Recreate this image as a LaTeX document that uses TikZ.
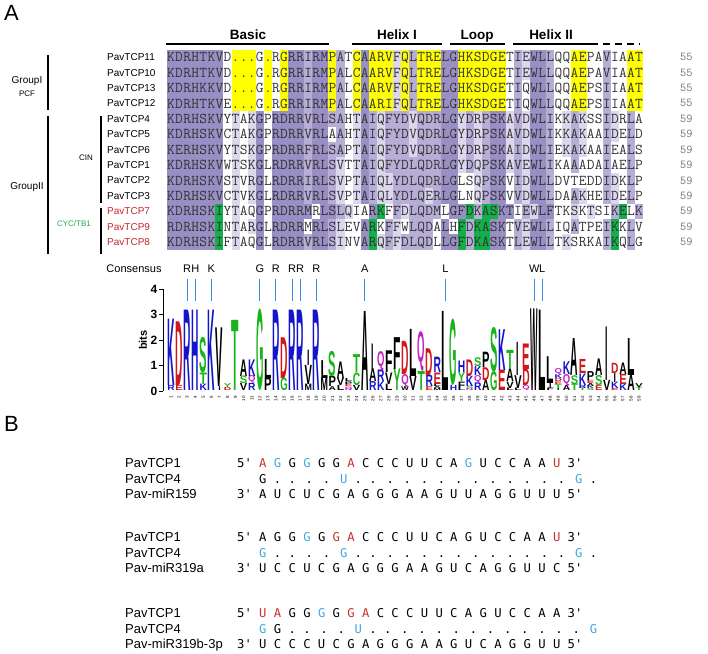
\documentclass[tikz,border=0pt]{standalone}
\usepackage{fontspec}
\setmainfont{Liberation Sans}
\setsansfont{Liberation Sans}
\newfontfamily\nucfont{DejaVu Sans Mono}
\usepackage{graphicx}
\usepackage{tikz}

\definecolor{alnD}{HTML}{9A8FC5}
\definecolor{alnM}{HTML}{B7AED8}
\definecolor{alnL}{HTML}{DCD7EC}
\definecolor{alnY}{HTML}{FFFF00}
\definecolor{alnG}{HTML}{12B04A}
\definecolor{tcpred}{HTML}{C4262E}
\definecolor{cycgreen}{HTML}{1FAA4B}
\definecolor{consblue}{HTML}{3B8EDB}
\definecolor{logob}{HTML}{1414CC}
\definecolor{logor}{HTML}{D01818}
\definecolor{logog}{HTML}{18B418}
\definecolor{logop}{HTML}{C41EC4}
\definecolor{logok}{HTML}{000000}
\definecolor{ntred}{HTML}{C8302C}
\definecolor{ntblue}{HTML}{44A4E0}

\def\alnx{167}
\def\alnw{8.07}
\def\rowtop{49.5}
\def\rowh{15.4}
\def\logobase{391}
\def\bitht{25.5}

\newcount\colno

%% shading of one alignment row
\newcommand{\cellrow}[2]{\def\currow{#1}\colno=0 \cellnext#2\relax}
\def\cellnext#1{%
  \ifx#1\relax\let\nextcell\relax\else
    \advance\colno by 1
    \if#1o\else
      \fill[cell#1] ({\alnx+(\the\colno-1)*\alnw},{\rowtop+(\currow-1)*\rowh})
        rectangle ++(\alnw,\rowh);
    \fi
    \let\nextcell\cellnext
  \fi\nextcell}

%% residues of one alignment row
\newcommand{\seqrow}[2]{\def\currow{#1}\colno=0 \seqnext#2\relax}
\def\seqnext#1{%
  \ifx#1\relax\let\nextseq\relax\else
    \advance\colno by 1
    \node[seqchar] (q\currow-\the\colno)
      at ({\alnx+(\the\colno-0.5)*\alnw},{\rowtop+(\currow-0.5)*\rowh+4.6}) {#1};
    \let\nextseq\seqnext
  \fi\nextseq}

%% one letter of the logo
\def\ltrI{I}
\newcommand{\logoltr}[5]{%
  \pgfmathsetlengthmacro\ltrh{#3*\bitht*1pt}%
  \edef\ltrtmp{#4}\def\ltrw{7.4pt}%
  \ifx\ltrtmp\ltrI\def\ltrw{2.4pt}\fi
  \edef\ltrcol{logo#5}%
  \node[logoletter, text=\ltrcol] (lg#1#4)
    at ({\alnx+(#1-0.5)*\alnw},{\logobase-(#2)*\bitht}) {\resizebox*{\ltrw}{\ltrh}{#4}};}
\newcommand{\logocol}[2]{%
  \foreach \lt/\lh/\lc [remember=\tp as \bs (initially 0),
      evaluate=\lh as \tp using \bs+\lh] in {#2}
    {\logoltr{#1}{\bs}{\lh}{\lt}{\lc}}}

\newcommand{\ntR}[1]{\textcolor{ntred}{#1}}
\newcommand{\ntB}[1]{\textcolor{ntblue}{#1}}

\begin{document}
\begin{tikzpicture}[x=1pt,y=-1pt,
  celld/.style={fill=alnD}, cellm/.style={fill=alnM}, celll/.style={fill=alnL},
  celly/.style={fill=alnY}, cellg/.style={fill=alnG},
  seqchar/.style={font=\ttfamily\fontsize{15}{15}\selectfont, text=black!80,
    inner sep=0pt, anchor=base},
  rowlab/.style={font=\fontsize{10}{12}\selectfont, anchor=west, inner sep=0pt},
  lenlab/.style={font=\ttfamily\fontsize{12}{12}\selectfont, text=black!55,
    anchor=west, inner sep=0pt},
  domainlab/.style={font=\bfseries\fontsize{13.5}{15}\selectfont, inner sep=0pt, anchor=base},
  domline/.style={line width=1.4pt},
  grouplab/.style={font=\fontsize{10}{12}\selectfont, inner sep=0pt},
  subgroup/.style={font=\fontsize{8}{10}\selectfont, inner sep=0pt},
  groupbar/.style={line width=1.1pt},
  panel/.style={font=\fontsize{22}{24}\selectfont, anchor=west, inner sep=0pt},
  logoletter/.style={font=\bfseries, anchor=south, inner sep=0pt},
  colnum/.style={font=\fontsize{4.5}{5}\selectfont, rotate=90, anchor=east, inner sep=0pt},
  bitnum/.style={font=\bfseries\fontsize{12}{12}\selectfont, anchor=east, inner sep=0pt},
  conslab/.style={font=\fontsize{11}{12}\selectfont, inner sep=0pt},
  consmark/.style={consblue, line width=1pt},
  ntrow/.style={font=\nucfont\fontsize{12.2}{13}\selectfont, anchor=base west, inner sep=0pt},
  ntlab/.style={font=\fontsize{13}{14}\selectfont, anchor=base west, inner sep=0pt}]

  \useasboundingbox (0,0) rectangle (708,653);

  \node[panel] (pA) at (4,13) {A};

  %% domains
  \node[domainlab] (basic) at (248,39) {Basic};
  \node[domainlab] (helixa) at (397,39) {Helix I};
  \node[domainlab] (loop) at (477,39) {Loop};
  \node[domainlab] (helixb) at (551,39) {Helix II};
  \draw[domline] (166,44) -- (329,44);
  \draw[domline] (352,44) -- (442,44);
  \draw[domline] (450,44) -- (505,44);
  \draw[domline] (513,44) -- (591,44);
  \draw[domline, dash pattern=on 7pt off 5pt] (591,44) -- (640,44);

  %% shading
  \cellrow{1}{dddddddoyyyoyoyddmddymoydyyylymyyyddyyyyyyomlddmooyyoomooyy}
  \cellrow{2}{dddddddoyyyoyoyddmddymoydyyylymyyyddyyyyyyomlddmooyyoomooyy}
  \cellrow{3}{dddddddoyyyoyoyddmddymoydyyylymyyyddyyyyyyomoddmooyyoomooyy}
  \cellrow{4}{dddddddoyyyoyoyddmddymoydyyylymyyyddyyyyyyomoddmooyyoomooyy}
  \cellrow{5}{dddddddololdoddddmddmmoldmlmmmlmmmddlmlmddlmlddmolmloomlomo}
  \cellrow{6}{dddddddololdoddddmddomoldmlmmmlmmmddlmlmddlmlddmolmloomlomo}
  \cellrow{7}{dddddddololdoddddmddmmoldmlmmmlmmmddlmlmddlmlddmolmloomoomo}
  \cellrow{8}{dddddddololdoddddmddmloldmlmmmmmmmddlmlmddlmlddmoomooomoomo}
  \cellrow{9}{dddddddololdoddddmddmloldmllmmmmmmddoolmddomlddmoooooomlomo}
  \cellrow{10}{dddddddololdoddddmddmloldmllmmmmlmddoolmddomlddmoomloomlomo}
  \cellrow{11}{ddddddgoloododddddoddmloodgomlmmmmoddgmggddomlddoololoomgomo}
  \cellrow{12}{ddddddgololdoddddoddmloodgomlommmodogmggddomlddmoomooomgomo}
  \cellrow{13}{ddddddgoloododdddmddmloodglmlmmmmoddgmggddomlddmoloooomgomo}

  %% residues
  \seqrow{1}{KDRHTKVD...G.RGRRIRMPATCAARVFQLTRELGHKSDGETIEWLLQQAEPAVIAAT}
  \seqrow{2}{KDRHTKVD...G.RGRRIRMPALCAARVFQLTRELGHKSDGETIEWLLQQAEPAVIAAT}
  \seqrow{3}{KDRHKKVD...G.RGRRIRMPALCAARVFQLTRELGHKSDGETIQWLLQQAEPSIIAAT}
  \seqrow{4}{KDRHTKVE...G.RGRRIRMPALCAARIFQLTRELGHKSDGETIQWLLQQAEPSIIAAT}
  \seqrow{5}{KDRHSKVYTAKGPRDRRVRLSAHTAIQFYDVQDRLGYDRPSKAVDWLIKKAKSSIDRLA}
  \seqrow{6}{KDRHSKVCTAKGPRDRRVRLAAHTAIQFYDVQDRLGYDRPSKAVDWLIKKAKAAIDELD}
  \seqrow{7}{KERHSKVYTSKGPRDRRFRLSAPTAIQFYDVQDRLGYDRPSKAIDWLIEKAKAAIEALS}
  \seqrow{8}{KDRHSKVWTSKGLRDRRVRLSVTTAIQFYDLQDRLGYDQPSKAVEWLIKAAADAIAELP}
  \seqrow{9}{KDRHSKVSTVRGLRDRRIRLSVPTAIQLYDLQDRLGLSQPSKVIDWLLDVTEDDIDKLP}
  \seqrow{10}{KDRHSKVCTVKGLRDRRVRLSVPTAIQLYDLQERLGLNQPSKVVDWLLDAAKHEIDELP}
  \seqrow{11}{KDRHSKIYTAQGPRDRRMRLSLQIARKFFDLQDMLGFDKASKTIEWLFTKSKTSIKELK}
  \seqrow{12}{RDRHSKINTARGLRDRRMRLSLEVARKFFWLQDALHFDKASKTVEWLLIQATPEIKKLV}
  \seqrow{13}{KDRHSKIFTAQGLRDRRVRLSINVARQFFDLQDLLGFDKASKTLEWLLTKSRKAIKQLG}

  %% names and lengths
  \foreach \r/\n/\c in {1/PavTCP11/black,2/PavTCP10/black,3/PavTCP13/black,
      4/PavTCP12/black,5/PavTCP4/black,6/PavTCP5/black,7/PavTCP6/black,
      8/PavTCP1/black,9/PavTCP2/black,10/PavTCP3/black,11/PavTCP7/tcpred,
      12/PavTCP9/tcpred,13/PavTCP8/tcpred}
    \node[rowlab, text=\c] (lab\r) at (107,{\rowtop+(\r-0.5)*\rowh}) {\n};
  \foreach \r/\n in {1/55,2/55,3/55,4/55,5/59,6/59,7/59,8/59,9/59,10/59,11/59,12/59,13/59}
    \node[lenlab] (len\r) at (680,{\rowtop+(\r-0.5)*\rowh}) {\n};

  %% groups
  \node[grouplab] (gpa) at (27,81) {GroupI};
  \node[subgroup] (pcf) at (27,94) {PCF};
  \draw[groupbar] (48,55) -- (48,110);
  \node[grouplab] (gpb) at (27,187) {GroupII};
  \draw[groupbar] (48,116) -- (48,254);
  \node[subgroup] (cin) at (86,158) {CIN};
  \draw[groupbar] (101,116) -- (101,203);
  \node[subgroup, text=cycgreen] (cyc) at (74,224) {CYC/TB1};
  \draw[groupbar] (101,208) -- (101,254);

  %% consensus
  \node[conslab] (cons) at (134,269) {Consensus};
  \foreach \k/\a in {3/R,4/H,6/K,12/G,14/R,16/R,17/R,19/R,25/A,35/L,46/W,47/L} {
    \node[conslab] (cs\k) at ({\alnx+(\k-0.5)*\alnw},269) {\a};
    \draw[consmark] ({\alnx+(\k-0.5)*\alnw},279) -- ({\alnx+(\k-0.5)*\alnw},301);
  }

  %% logo axis
  \draw[line width=0.8pt] (163,289) -- (163,391);
  \foreach \b in {0,...,4} {
    \draw[line width=0.8pt] (159,{391-\b*25.5}) -- (163,{391-\b*25.5});
    \node[bitnum] (bit\b) at (157.5,{391-\b*25.5}) {\b};
  }
  \node[font=\bfseries\fontsize{11}{12}\selectfont, rotate=90, inner sep=0pt] (bits) at (143,340) {bits};
  \foreach \k in {1,...,59}
    \node[colnum] (num\k) at ({\alnx+(\k-0.5)*\alnw},396) {\k};

  %% logo
  \logocol{1}{R/.2/b,K/2.6/b}
  \logocol{2}{E/.2/r,D/2.5/r}
  \logocol{3}{R/3.15/b}
  \logocol{4}{H/3.15/b}
  \logocol{5}{K/.25/b,T/.45/g,S/1.4/g}
  \logocol{6}{K/3.15/b}
  \logocol{7}{I/.15/k,V/2.3/k}
  \logocol{8}{D/.12/r,Y/.15/g}
  \logocol{9}{T/2.75/g}
  \logocol{10}{V/.28/k,S/.3/g,A/.65/k}
  \logocol{11}{R/.28/b,Q/.3/p,K/.65/b}
  \logocol{12}{G/3.2/g}
  \logocol{13}{P/.5/k,L/.75/k}
  \logocol{14}{R/3.15/b}
  \logocol{15}{G/.5/g,D/1.6/r}
  \logocol{16}{R/3.15/b}
  \logocol{17}{R/3.15/b}
  \logocol{18}{M/.25/k,V/.75/k,I/.6/k}
  \logocol{19}{R/3.15/b}
  \logocol{20}{M/.5/k,L/.7/k}
  \logocol{21}{A/.15/k,P/.4/k,S/1.0/g}
  \logocol{22}{L/.2/k,V/.3/k,A/.65/k}
  \logocol{23}{N/.08/p,Q/.08/p,E/.1/r,P/.1/k,L/.12/k}
  \logocol{24}{V/.2/k,C/.5/g,T/.7/g}
  \logocol{25}{A/3.1/k}
  \logocol{26}{R/.35/b,A/.5/k,I/1.0/k}
  \logocol{27}{K/.35/b,R/.45/b,Q/.75/p}
  \logocol{28}{L/.25/k,V/.45/k,F/.85/k}
  \logocol{29}{Y/.85/g,F/1.25/k}
  \logocol{30}{W/.15/k,Q/.5/p,D/1.3/r}
  \logocol{31}{V/.55/k,L/1.85/k}
  \logocol{32}{T/.75/g,Q/1.55/p}
  \logocol{33}{E/.15/r,R/.45/b,D/1.05/r}
  \logocol{34}{M/.08/k,A/.08/k,L/.1/k,E/.45/r,R/.6/b}
  \logocol{35}{L/3.1/k}
  \logocol{36}{H/.2/b,G/2.6/g}
  \logocol{37}{L/.1/k,F/.25/k,Y/.35/g,H/.45/b}
  \logocol{38}{N/.08/p,S/.1/g,K/.4/b,D/.65/r}
  \logocol{39}{R/.3/b,Q/.3/p,K/.35/b,S/.35/g}
  \logocol{40}{A/.4/k,D/.5/r,P/.6/k}
  \logocol{41}{G/.75/g,S/1.75/g}
  \logocol{42}{E/.8/r,K/1.6/b}
  \logocol{43}{L/.1/k,V/.25/k,A/.5/k,T/.75/g}
  \logocol{44}{L/.1/k,V/.5/k,I/1.3/k}
  \logocol{45}{Q/.2/p,D/.65/r,E/1.0/r}
  \logocol{46}{W/3.2/k}
  \logocol{47}{L/3.15/k}
  \logocol{48}{F/.1/k,I/.2/k,L/1.05/k}
  \logocol{49}{I/.1/k,T/.15/g,E/.1/r,D/.12/r,K/.15/b,Q/.25/p}
  \logocol{50}{A/.2/k,Q/.45/p,K/.5/b}
  \logocol{51}{T/.25/g,S/.35/g,A/1.45/k}
  \logocol{52}{T/.1/g,R/.12/b,K/.45/b,E/.55/r}
  \logocol{53}{S/.08/g,K/.1/b,A/.12/k,E/.12/r,P/.35/k}
  \logocol{54}{E/.2/r,S/.4/g,A/.65/k}
  \logocol{55}{V/.4/k,I/2.1/k}
  \logocol{56}{E/.08/r,K/.25/b,I/.35/k,D/.4/r}
  \logocol{57}{K/.25/b,E/.4/r,A/.45/k}
  \logocol{58}{A/.6/k,L/1.45/k}
  \logocol{59}{T/.12/g,V/.15/k}

  \node[panel] (pB) at (4,424) {B};

  %% miR159
  \node[ntlab] (la1) at (125,467.5) {PavTCP1};
  \node[ntlab] (la2) at (125,483) {PavTCP4};
  \node[ntlab] (la3) at (125,498.5) {Pav-miR159};
  \node[ntrow] (sa1) at (237,467.5) {5\textquotesingle{} \ntR{A} \ntB{G} G \ntB{G} G G \ntR{A} C C C U U C A \ntB{G} U C C A A \ntR{U} 3\textquotesingle};
  \node[ntrow] (sa2) at (259.03,483) {G . . . . \ntB{U} . . . . . . . . . . . . . \ntB{G} .};
  \node[ntrow] (sa3) at (237,498.5) {3\textquotesingle{} A U C U C G A G G G A A G U U A G G U U U 5\textquotesingle};

  %% miR319a
  \node[ntlab] (lb1) at (125,541.5) {PavTCP1};
  \node[ntlab] (lb2) at (125,557) {PavTCP4};
  \node[ntlab] (lb3) at (125,572.5) {Pav-miR319a};
  \node[ntrow] (sb1) at (237,541.5) {5\textquotesingle{} A G G \ntB{G} G \ntR{G} \ntR{A} C C C U U C A G U C C A A \ntR{U} 3\textquotesingle};
  \node[ntrow] (sb2) at (259.03,557) {\ntB{G} . . . . \ntB{G} . . . . . . . . . . . . . \ntB{G} .};
  \node[ntrow] (sb3) at (237,572.5) {3\textquotesingle{} U C C U C G A G G G A A G U C A G G U U C 5\textquotesingle};

  %% miR319b-3p
  \node[ntlab] (lc1) at (125,617.5) {PavTCP1};
  \node[ntlab] (lc2) at (125,633) {PavTCP4};
  \node[ntlab] (lc3) at (125,648.5) {Pav-miR319b-3p};
  \node[ntrow] (sc1) at (237,617.5) {5\textquotesingle{} \ntR{U} \ntR{A} G G \ntB{G} G \ntR{G} \ntR{A} C C C U U C A G U C C A A 3\textquotesingle};
  \node[ntrow] (sc2) at (259.03,633) {\ntB{G} G . . . . \ntB{U} . . . . . . . . . . . . . \ntB{G}};
  \node[ntrow] (sc3) at (237,648.5) {3\textquotesingle{} U C C C U C G A G G G A A G U C A G G U U 5\textquotesingle};

\end{tikzpicture}
\end{document}
